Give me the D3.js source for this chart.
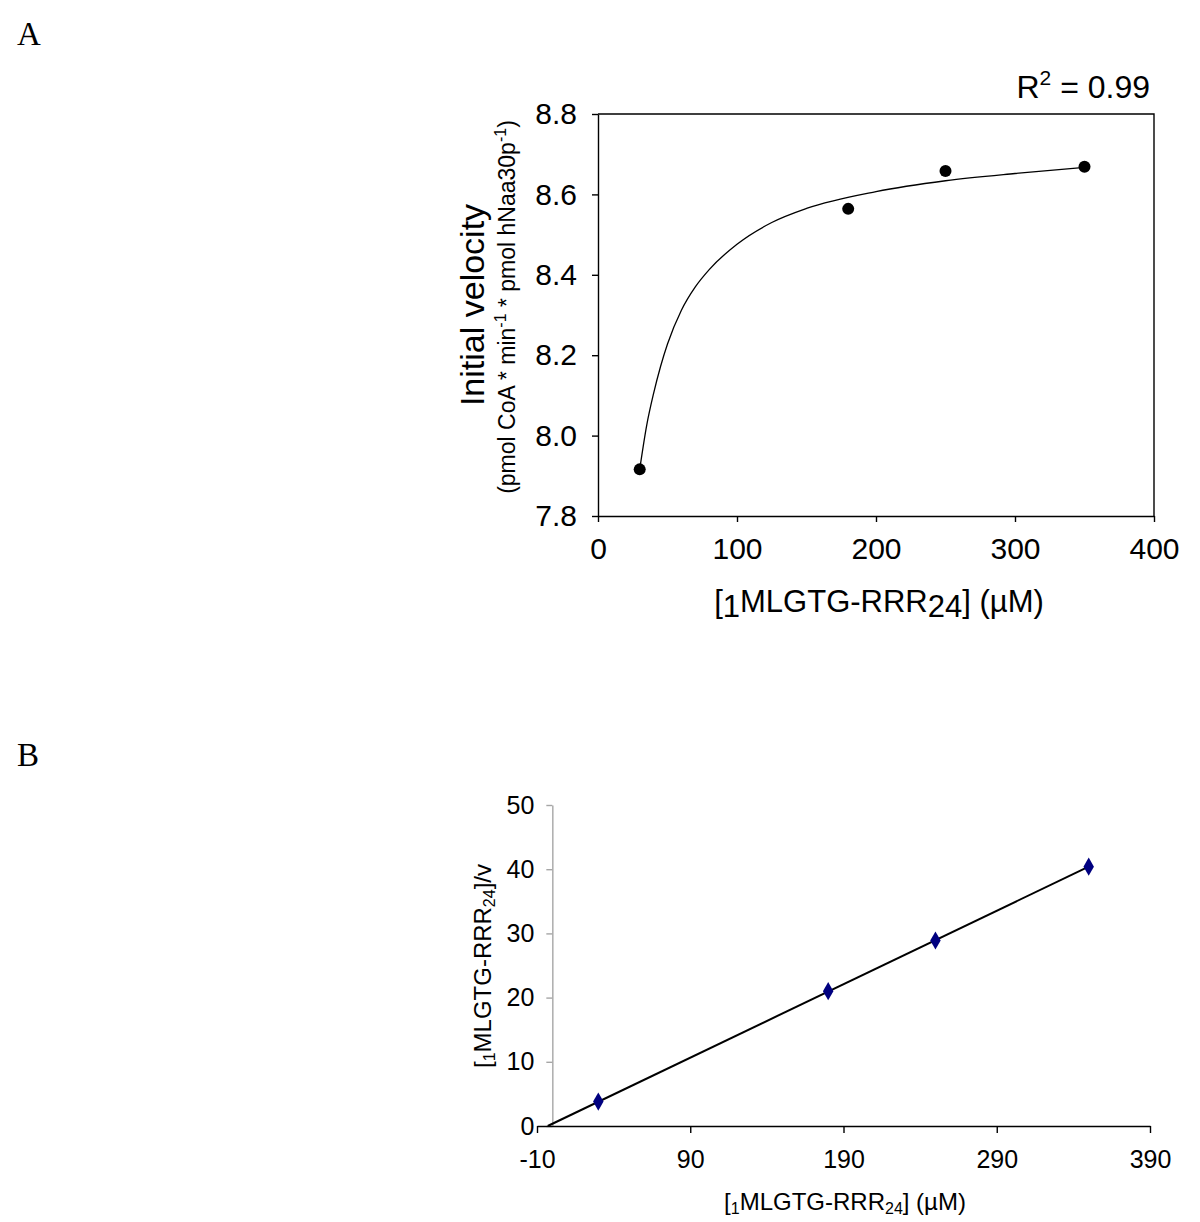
<!DOCTYPE html>
<html>
<head>
<meta charset="utf-8">
<script src="https://cdn.jsdelivr.net/npm/d3@7"></script>
<style>
  html, body { margin: 0; padding: 0; background: #fff; }
  svg { display: block; }
  .sans { font-family: "Liberation Sans", Arial, sans-serif; }
  .serif { font-family: "Liberation Serif", "Times New Roman", serif; }
</style>
</head>
<body>
<svg id="chart" width="1200" height="1222"></svg>
<script>
// ---------- data ----------
// Panel A: Michaelis-Menten plot
const substrateA = [30, 180, 250, 350];
const velocityA = [7.916, 8.564, 8.658, 8.669];
// fitted curve
const fitX = [30, 35, 40, 45, 50, 60, 70, 80, 100, 125, 150, 200, 250, 300, 350];
const fitY = [7.916, 8.025, 8.105, 8.172, 8.228, 8.312, 8.370, 8.413, 8.476, 8.530, 8.565, 8.607, 8.634, 8.652, 8.667];
const xTicksA = [0, 100, 200, 300, 400];
const yTicksA = [7.8, 8.0, 8.2, 8.4, 8.6, 8.8];
const r2Label = "0.99";

// Panel B: Hanes-Woolf plot
const substrateB = [30, 180, 250, 350];
const ratioB = [3.8, 21.0, 28.9, 40.4];
const lineBX = [-3, 350];
const lineBY = [0, 40.4];
const xTicksB = [-10, 90, 190, 290, 390];
const yTicksB = [0, 10, 20, 30, 40, 50];

// ---------- drawing ----------
const svg = d3.select("#chart");
const SANS = "Liberation Sans, Arial, sans-serif";

// Panel letters
svg.append("text").attr("class", "serif").attr("x", 17).attr("y", 45)
  .attr("font-size", 33).text("A");
svg.append("text").attr("class", "serif").attr("x", 17).attr("y", 766)
  .attr("font-size", 33).text("B");

// ===== Panel A =====
const xA = d3.scaleLinear().domain([0, 400]).range([598, 1154]);
const yA = d3.scaleLinear().domain([7.8, 8.8]).range([516, 114]);
const gA = svg.append("g").attr("class", "sans");

// frame (top & right borders)
gA.append("path")
  .attr("d", `M${xA(0)},${yA(8.8)}H${xA(400)}V${yA(7.8)}`)
  .attr("fill", "none").attr("stroke", "#000").attr("stroke-width", 1.4);

const axLA = gA.append("g").attr("transform", `translate(${xA(0)},0)`)
  .call(d3.axisLeft(yA).tickValues(yTicksA).tickFormat(d3.format(".1f"))
    .tickSize(6).tickSizeOuter(0).tickPadding(15));
const axBA = gA.append("g").attr("transform", `translate(0,${yA(7.8)})`)
  .call(d3.axisBottom(xA).tickValues(xTicksA).tickFormat(d3.format("d"))
    .tickSize(6).tickSizeOuter(0).tickPadding(16));
[axLA, axBA].forEach(a => {
  a.select(".domain").attr("stroke", "#000").attr("stroke-width", 1.4);
  a.selectAll(".tick line").attr("stroke", "#000").attr("stroke-width", 1.4);
  a.selectAll(".tick text").attr("font-size", 30).attr("fill", "#000")
    .attr("font-family", SANS);
});

// fit curve
const fitData = fitX.map((x, i) => [x, fitY[i]]);
gA.append("path").datum(fitData)
  .attr("d", d3.line().x(d => xA(d[0])).y(d => yA(d[1])).curve(d3.curveMonotoneX))
  .attr("fill", "none").attr("stroke", "#000").attr("stroke-width", 1.3);

// points
gA.selectAll("circle.pt").data(substrateA.map((x, i) => [x, velocityA[i]]))
  .enter().append("circle").attr("class", "pt")
  .attr("cx", d => xA(d[0])).attr("cy", d => yA(d[1])).attr("r", 6)
  .attr("fill", "#000");

// R^2
const r2 = gA.append("text").attr("x", 1150).attr("y", 98)
  .attr("text-anchor", "end").attr("font-size", 32);
r2.append("tspan").text("R");
r2.append("tspan").attr("font-size", 21).attr("dy", -13).text("2");
r2.append("tspan").attr("dy", 13).text(" = " + r2Label);

// x title A
const xtA = gA.append("text").attr("x", 879).attr("y", 612)
  .attr("text-anchor", "middle").attr("font-size", 31);
xtA.append("tspan").text("[");
xtA.append("tspan").attr("dy", 5).text("1");
xtA.append("tspan").attr("dy", -5).text("MLGTG-RRR");
xtA.append("tspan").attr("dy", 5).text("24");
xtA.append("tspan").attr("dy", -5).text("] (µM)");

// y title A
const midA = (yA(7.8) + yA(8.8)) / 2;
gA.append("text").attr("transform", `translate(484,${midA - 10}) rotate(-90)`)
  .attr("text-anchor", "middle").attr("font-size", 34).text("Initial velocity");
const ytA2 = gA.append("text").attr("transform", `translate(515,${midA - 8}) rotate(-90)`)
  .attr("text-anchor", "middle").attr("font-size", 23);
ytA2.append("tspan").text("(pmol CoA * min");
ytA2.append("tspan").attr("font-size", 16).attr("dy", -9).text("-1");
ytA2.append("tspan").attr("dy", 9).text(" * pmol hNaa30p");
ytA2.append("tspan").attr("font-size", 16).attr("dy", -9).text("-1");
ytA2.append("tspan").attr("dy", 9).text(")");

// ===== Panel B =====
const xB = d3.scaleLinear().domain([-10, 390]).range([537, 1150]);
const yB = d3.scaleLinear().domain([0, 50]).range([1126, 805]);
const gB = svg.append("g").attr("class", "sans");

const axLB = gB.append("g").attr("transform", `translate(${xB(0)},0)`)
  .call(d3.axisLeft(yB).tickValues(yTicksB).tickFormat(d3.format("d"))
    .tickSize(6).tickSizeOuter(0).tickPadding(12));
axLB.select(".domain").attr("stroke", "#a6a6a6").attr("stroke-width", 1.4);
axLB.selectAll(".tick line").attr("stroke", "#a6a6a6").attr("stroke-width", 1.4);

const axBB = gB.append("g").attr("transform", `translate(0,${yB(0)})`)
  .call(d3.axisBottom(xB).tickValues(xTicksB).tickFormat(d3.format("d"))
    .tickSize(7).tickSizeOuter(0).tickPadding(17));
axBB.select(".domain").attr("stroke", "#000").attr("stroke-width", 1.4);
axBB.selectAll(".tick line").attr("stroke", "#000").attr("stroke-width", 1.4);

[axLB, axBB].forEach(a => {
  a.selectAll(".tick text").attr("font-size", 25).attr("fill", "#000")
    .attr("font-family", SANS);
});
axBB.selectAll(".tick text").text(d => d < 0 ? "-" + Math.abs(d) : d);

// regression line
gB.append("path").datum(lineBX.map((x, i) => [x, lineBY[i]]))
  .attr("d", d3.line().x(d => xB(d[0])).y(d => yB(d[1])))
  .attr("fill", "none").attr("stroke", "#000").attr("stroke-width", 2);

// diamonds
const diamond = d3.symbol().type(d3.symbolDiamond).size(95);
gB.selectAll("path.pt").data(substrateB.map((x, i) => [x, ratioB[i]]))
  .enter().append("path").attr("class", "pt")
  .attr("d", diamond)
  .attr("transform", d => `translate(${xB(d[0])},${yB(d[1])})`)
  .attr("fill", "#000080");

// x title B
const xtB = gB.append("text").attr("x", 845).attr("y", 1210)
  .attr("text-anchor", "middle").attr("font-size", 24);
xtB.append("tspan").text("[");
xtB.append("tspan").attr("font-size", 16).attr("dy", 4).text("1");
xtB.append("tspan").attr("dy", -4).text("MLGTG-RRR");
xtB.append("tspan").attr("font-size", 16).attr("dy", 4).text("24");
xtB.append("tspan").attr("dy", -4).text("] (µM)");

// y title B
const ytB = gB.append("text").attr("transform", `translate(491,966) rotate(-90)`)
  .attr("text-anchor", "middle").attr("font-size", 24);
ytB.append("tspan").text("[");
ytB.append("tspan").attr("font-size", 16).attr("dy", 4).text("1");
ytB.append("tspan").attr("dy", -4).text("MLGTG-RRR");
ytB.append("tspan").attr("font-size", 16).attr("dy", 4).text("24");
ytB.append("tspan").attr("dy", -4).text("]/v");
</script>
</body>
</html>
